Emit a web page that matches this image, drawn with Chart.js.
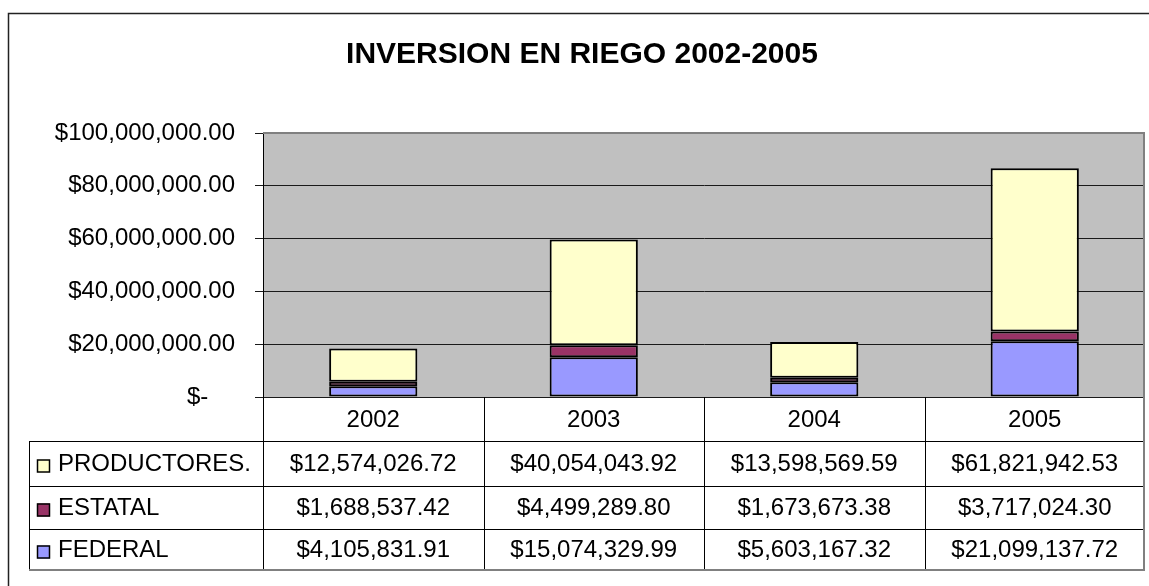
<!DOCTYPE html>
<html>
<head>
<meta charset="utf-8">
<script src="https://cdn.jsdelivr.net/npm/chart.js@4.4.1/dist/chart.umd.min.js"></script>
<style>
  html, body { margin: 0; padding: 0; background: #fff; }
  #wrap { width: 1149px; height: 586px; }
</style>
</head>
<body>
<div id="wrap"><canvas id="riegoChart" width="1149" height="586"></canvas></div>
<script>
// Inversion en riego 2002-2005 - stacked bars with data table
const years = ['2002', '2003', '2004', '2005'];
const federal = [4105831.91, 15074329.99, 5603167.32, 21099137.72];
const estatal = [1688537.42, 4499289.80, 1673673.38, 3717024.30];
const productores = [12574026.72, 40054043.92, 13598569.59, 61821942.53];
const yTicks = [0, 20000000, 40000000, 60000000, 80000000, 100000000];
const chartTitle = 'INVERSION EN RIEGO 2002-2005';

const FONT = '"Liberation Sans", Arial, sans-serif';

function formatMoney(v) {
  return '$' + v.toLocaleString('en-US', { minimumFractionDigits: 2, maximumFractionDigits: 2 });
}

const tablePlugin = {
  id: 'riegoTable',
  beforeDraw(chart) {
    const { ctx, chartArea: a } = chart;
    ctx.save();
    // plot background
    ctx.fillStyle = '#c0c0c0';
    ctx.fillRect(a.left, a.top, a.right - a.left, a.bottom - a.top);
    // outer frame (runs off the right and bottom)
    ctx.strokeStyle = '#222';
    ctx.lineWidth = 1.5;
    ctx.beginPath();
    ctx.moveTo(8.5, 700);
    ctx.lineTo(8.5, 13.5);
    ctx.lineTo(1200, 13.5);
    ctx.stroke();
    // title
    ctx.fillStyle = '#000';
    ctx.font = 'bold 30px ' + FONT;
    ctx.textAlign = 'center';
    ctx.textBaseline = 'alphabetic';
    ctx.fillText(chartTitle, 582, 63);
    ctx.restore();
  },
  beforeDatasetsDraw(chart) {
    const { ctx, chartArea: a } = chart;
    ctx.save();
    ctx.strokeStyle = '#808080';
    ctx.lineWidth = 2;
    ctx.beginPath();
    ctx.moveTo(a.left, a.top);
    ctx.lineTo(a.right - 1, a.top);
    ctx.lineTo(a.right - 1, a.bottom);
    ctx.stroke();
    ctx.restore();
  },
  afterDraw(chart) {
    const { ctx, chartArea: a } = chart;
    const colW = (a.right - a.left) / years.length;
    const headBottom = a.bottom + 44;
    const rowLines = [headBottom, headBottom + 45, headBottom + 88, headBottom + 129];
    const tableLeft = 29;
    const rows = chart.data.datasets.slice().reverse();

    ctx.save();
    ctx.strokeStyle = '#000';
    ctx.lineWidth = 1;
    ctx.beginPath();
    // horizontal lines
    for (let i = 0; i < rowLines.length - 1; i++) {
      ctx.moveTo(tableLeft, Math.round(rowLines[i]) + 0.5);
      ctx.lineTo(a.right, Math.round(rowLines[i]) + 0.5);
    }
    // vertical lines
    ctx.moveTo(tableLeft + 0.5, headBottom);
    ctx.lineTo(tableLeft + 0.5, rowLines[3]);
    for (let k = 0; k < years.length; k++) {
      const xv = Math.round(a.left + k * colW) + 0.5;
      ctx.moveTo(xv, a.bottom);
      ctx.lineTo(xv, rowLines[3]);
    }
    ctx.stroke();

    // gray right and bottom edge
    ctx.strokeStyle = '#808080';
    ctx.lineWidth = 2;
    ctx.beginPath();
    ctx.moveTo(a.right - 1, a.bottom);
    ctx.lineTo(a.right - 1, rowLines[3]);
    ctx.lineTo(tableLeft, rowLines[3]);
    ctx.stroke();

    ctx.fillStyle = '#000';
    ctx.font = '24px ' + FONT;
    ctx.textAlign = 'center';
    ctx.textBaseline = 'middle';
    const xs = chart.scales.x;
    years.forEach((y, i) => {
      ctx.fillText(y, xs.getPixelForValue(i), (a.bottom + headBottom) / 2 + 1);
    });

    rows.forEach((ds, r) => {
      const top = rowLines[r];
      const bot = rowLines[r + 1];
      const cy = (top + bot) / 2 + 1;
      // legend key
      ctx.fillStyle = ds.backgroundColor;
      ctx.fillRect(37, cy - 5, 13, 13);
      ctx.strokeStyle = '#000';
      ctx.lineWidth = 1.5;
      ctx.strokeRect(37.5, cy - 4.5, 12, 12);
      ctx.fillStyle = '#000';
      ctx.textAlign = 'left';
      ctx.fillText(ds.label, 58, cy);
      ctx.textAlign = 'center';
      ds.data.forEach((v, i) => {
        ctx.fillText(formatMoney(v), xs.getPixelForValue(i), cy);
      });
    });
    ctx.restore();
  }
};

const ctx = document.getElementById('riegoChart');
new Chart(ctx.getContext('2d'), {
  type: 'bar',
  data: {
    labels: years,
    datasets: [
      { label: 'FEDERAL', data: federal, backgroundColor: '#9999ff' },
      { label: 'ESTATAL', data: estatal, backgroundColor: '#993366' },
      { label: 'PRODUCTORES.', data: productores, backgroundColor: '#ffffcc' }
    ].map(d => Object.assign(d, {
      borderColor: '#000',
      borderWidth: 2,
      borderSkipped: false,
      categoryPercentage: 1,
      barPercentage: 0.4
    }))
  },
  options: {
    responsive: false,
    animation: false,
    devicePixelRatio: 1,
    layout: { padding: { left: 0, top: 133, right: 4, bottom: 189 } },
    plugins: {
      legend: { display: false },
      title: { display: false },
      tooltip: { enabled: false }
    },
    scales: {
      x: {
        stacked: true,
        ticks: { display: false },
        grid: { display: false },
        border: { display: false },
        afterFit: s => { s.height = 0; }
      },
      y: {
        stacked: true,
        min: 0,
        max: 100000000,
        afterBuildTicks: s => { s.ticks = yTicks.map(v => ({ value: v })); },
        afterFit: s => { s.width = 263; },
        ticks: {
          color: '#000',
          padding: 20,
          font: { family: FONT, size: 24 },
          callback: v => v === 0 ? '$-    ' : formatMoney(v)
        },
        grid: { color: '#1a1a1a', lineWidth: 1, tickLength: 8 },
        border: { color: '#000', width: 1 }
      }
    }
  },
  plugins: [tablePlugin]
});
</script>
</body>
</html>
